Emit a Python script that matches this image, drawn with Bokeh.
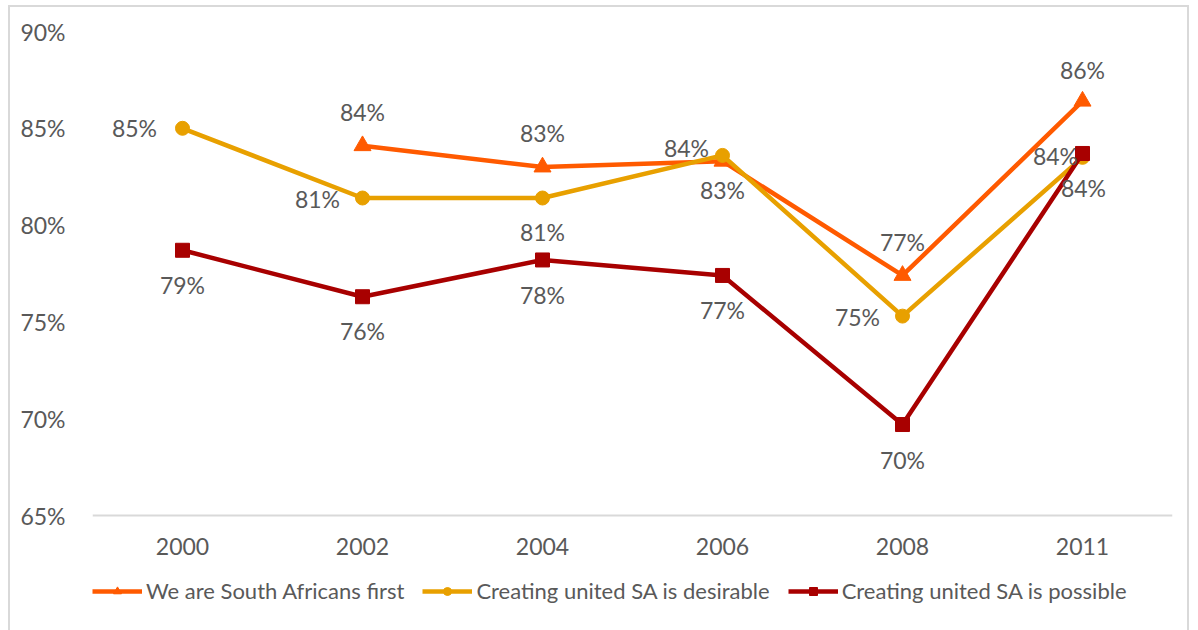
from bokeh.plotting import figure
from bokeh.models import ColumnDataSource, FactorRange, Range1d, Legend, LegendItem, FixedTicker
from bokeh.core.properties import value
from bokeh.embed import file_html
from bokeh.resources import INLINE

years = ["2000", "2002", "2004", "2006", "2008", "2011"]
first_years = ["2002", "2004", "2006", "2008", "2011"]
sa_first = [84.1, 83.0, 83.3, 77.4, 86.4]
desirable = [85.0, 81.4, 81.4, 83.6, 75.3, 83.5]
possible = [78.7, 76.3, 78.2, 77.4, 69.7, 83.7]
y_ticks = [65, 70, 75, 80, 85, 90]
y_tick_labels = ["65%", "70%", "75%", "80%", "85%", "90%"]

names = ["We are South Africans first", "Creating united SA is desirable", "Creating united SA is possible"]
colors = ["#FF5A00", "#E8A000", "#A80000"]

FONT = "Lato"
GRAY = "#595959"
FS = "23px"

# frame extends below the 65% baseline so the legend can sit inside it
p = figure(frame_width=1080, frame_height=600, x_range=FactorRange(*years, range_padding=0),
           y_range=Range1d(59.01, 90), output_backend="svg", toolbar_location=None,
           min_border_left=82, min_border_right=15, min_border_top=24, min_border_bottom=0,
           margin=(5, 0, 0, 8), styles={"border": "2px solid #d9d9d9"})
p.outline_line_color = None
p.xgrid.grid_line_color = None
p.ygrid.grid_line_color = None

p.yaxis.ticker = FixedTicker(ticks=y_ticks)
p.yaxis.major_label_overrides = {t: l for t, l in zip(y_ticks, y_tick_labels)}
p.yaxis.axis_line_color = None
p.yaxis.major_tick_line_color = None
p.yaxis.minor_tick_line_color = None
p.yaxis.major_label_standoff = 21
for ax in (p.xaxis[0], p.yaxis[0]):
    ax.major_label_text_font = FONT
    ax.major_label_text_font_size = FS
    ax.major_label_text_color = GRAY
p.xaxis.fixed_location = 65
p.xaxis.axis_line_color = "#d9d9d9"
p.xaxis.axis_line_width = 2
p.xaxis.major_tick_line_color = None
p.xaxis.minor_tick_line_color = None
p.xaxis.major_label_standoff = 16

def label_pct(v):
    return "%d%%" % round(v)

items = []
series = [
    (first_years, sa_first, "triangle", 17,
     [(0, -34), (0, -34), (0, 29), (0, -33), (0, -31)]),
    (years, desirable, "circle", 14,
     [(-48, 0), (-45, 1), (0, 34), (-36, -7), (-45, 1), (-27, -1)]),
    (years, possible, "square", 14,
     [(0, 35), (0, 34), (0, 35), (0, 35), (0, 35), (1, 35)]),
]
renderers = []
for (xs, ys, marker, size, offs), name, col in zip(series, names, colors):
    src = ColumnDataSource(dict(x=xs, y=ys, lab=[label_pct(v) for v in ys],
                                dx=[o[0] for o in offs], dy=[o[1] for o in offs]))
    lr = p.line("x", "y", source=src, line_color=col, line_width=4.5)
    sr = p.scatter("x", "y", source=src, marker=marker, size=size, fill_color=col, line_color=col)
    renderers.append((lr, sr, src, name))

for lr, sr, src, name in renderers:
    p.text("x", "y", text="lab", source=src, x_offset="dx", y_offset="dy",
           text_align="center", text_baseline="middle", text_font=value(FONT),
           text_font_size=FS, text_color=GRAY)
    items.append(LegendItem(label=name, renderers=[lr, sr]))

legend = Legend(items=items, orientation="horizontal", location=(0, 27),
                label_text_font=FONT, label_text_font_size="22px", label_text_color=GRAY,
                glyph_width=50, glyph_height=20, spacing=18, label_standoff=4,
                border_line_color=None, background_fill_alpha=0, padding=0, margin=0)
p.add_layout(legend, "center")

open("out.html", "w").write(file_html(p, INLINE))
